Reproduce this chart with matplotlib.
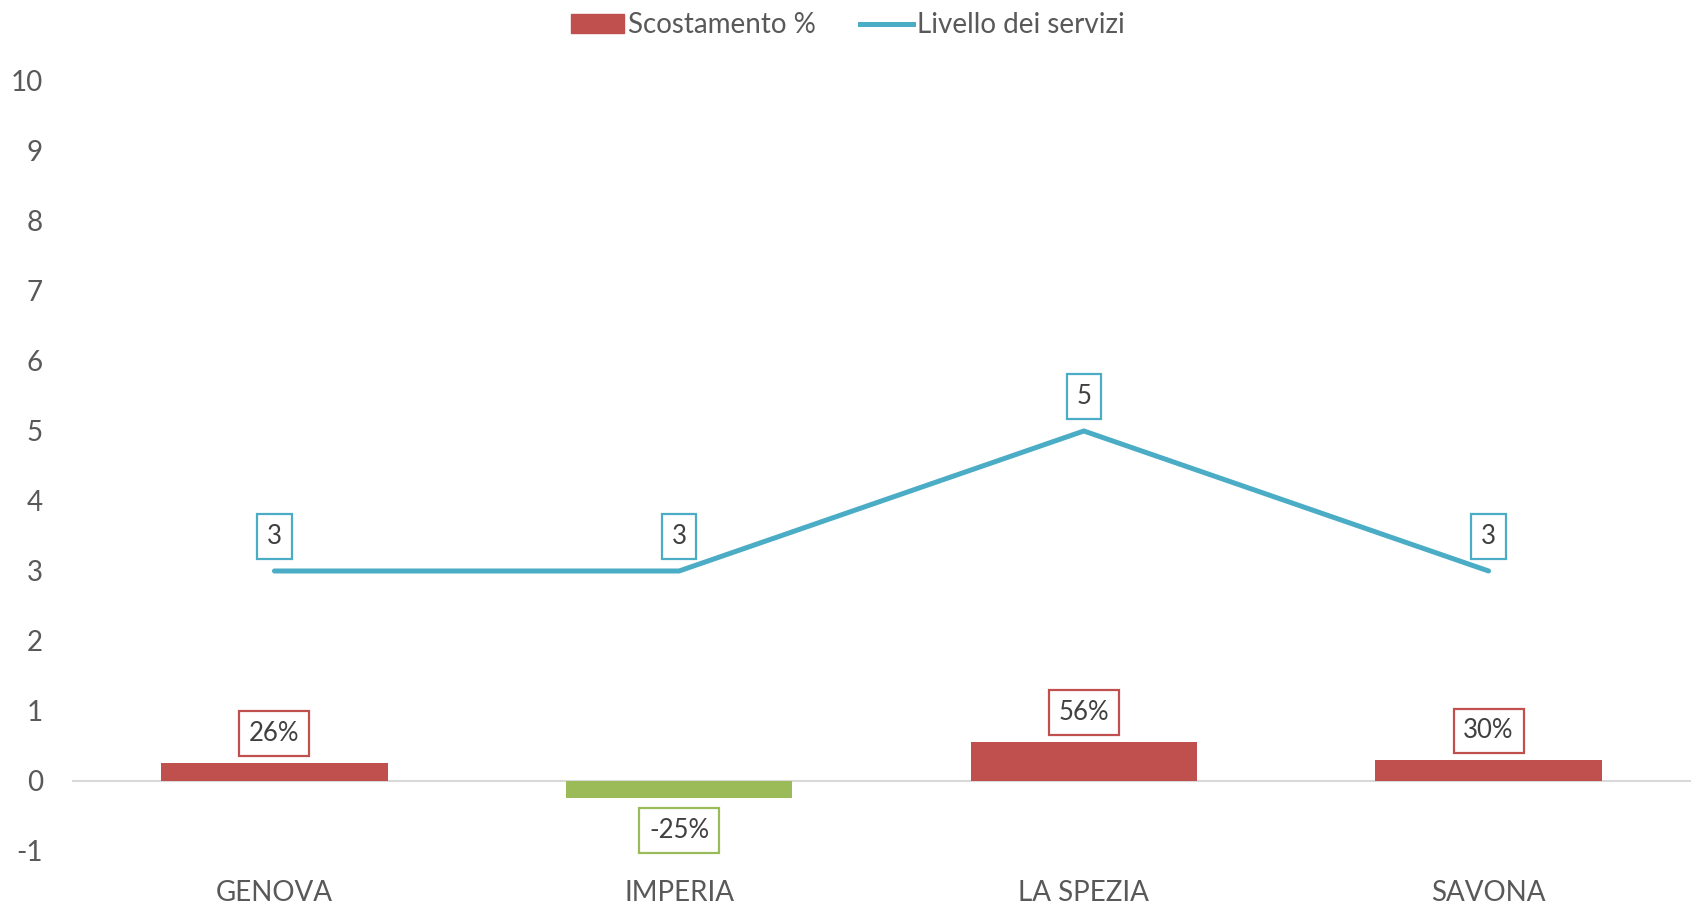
import matplotlib
matplotlib.use("Agg")
import matplotlib.pyplot as plt
from matplotlib.patches import Patch
from matplotlib.lines import Line2D

categories = ["GENOVA", "IMPERIA", "LA SPEZIA", "SAVONA"]
scostamento = [0.26, -0.25, 0.56, 0.30]
livello = [3, 3, 5, 3]
yticks = list(range(-1, 11))

plt.rcParams['font.family'] = ['Lato', 'DejaVu Sans']
RED = "#c0504d"
GREEN = "#9bbb59"
BLUE = "#4bacc6"
TXT = "#595959"
LBL = "#404040"

fig = plt.figure(figsize=(16.96, 9.08), dpi=100)
ax = fig.add_axes([0.0425, 0.0628, 0.9545, 0.848])

x = list(range(len(categories)))
colors = [RED if v >= 0 else GREEN for v in scostamento]
ax.bar(x, scostamento, width=0.56, color=colors, zorder=2)
ax.plot(x, livello, color=BLUE, lw=3.6, zorder=3, solid_capstyle='round')
ax.axhline(0, color="#d9d9d9", lw=1.5, zorder=1)

for xi, v, c in zip(x, scostamento, colors):
    off = 21 if v >= 0 else -23
    ax.annotate(f"{round(v*100)}%", (xi, v), xytext=(0, off), textcoords="offset points",
                ha="center", va="center", fontsize=18.5, color=LBL,
                bbox=dict(boxstyle="square,pad=0.38", fc="white", ec=c, lw=1.6), zorder=5)

for xi, v in zip(x, livello):
    ax.annotate(f"{v}", (xi, v), xytext=(0, 25), textcoords="offset points",
                ha="center", va="center", fontsize=18.5, color=LBL,
                bbox=dict(boxstyle="square,pad=0.38", fc="white", ec=BLUE, lw=1.6), zorder=5)

ax.set_xlim(-0.5, len(categories) - 0.5)
ax.set_ylim(-1, 10)
ax.set_yticks(yticks)
ax.set_yticklabels([str(t) for t in yticks], fontsize=20, color=TXT)
ax.set_xticks(x)
ax.set_xticklabels(categories, fontsize=20, color=TXT)
ax.tick_params(axis='both', length=0)
ax.tick_params(axis='y', pad=21)
ax.tick_params(axis='x', pad=21)
for s in ax.spines.values():
    s.set_visible(False)

handles = [Patch(facecolor=RED, edgecolor=RED),
           Line2D([0], [0], color=BLUE, lw=3.6)]
fig.legend(handles, ["Scostamento %", "Livello dei servizi"], loc="upper center",
           bbox_to_anchor=(0.5, 1.014), ncol=2, frameon=False, fontsize=20,
           labelcolor=TXT, handlelength=1.9, handletextpad=0.15, columnspacing=1.6)

fig.savefig("out.png", dpi=100)
